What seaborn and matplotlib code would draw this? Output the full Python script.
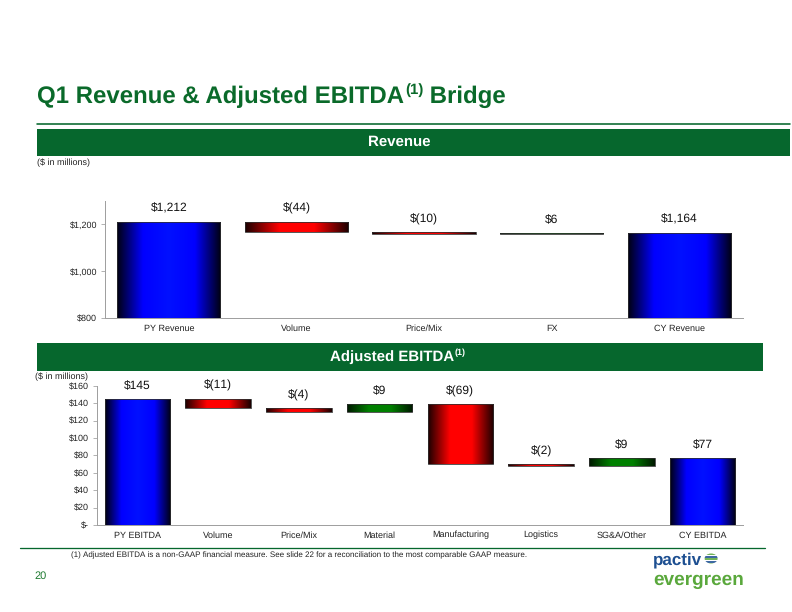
import matplotlib
matplotlib.use("Agg")
import matplotlib.pyplot as plt
import numpy as np
import pandas as pd
import seaborn as sns
from matplotlib.colors import LinearSegmentedColormap
from matplotlib.patches import Rectangle, Circle
from matplotlib.lines import Line2D

# ---- data ----
rev_cats = ["PY Revenue", "Volume", "Price/Mix", "FX", "CY Revenue"]
rev_vals = [1212, -44, -10, 6, 1164]
rev_kind = ["total", "delta", "delta", "delta", "total"]
rev_labels = ["$1,212", "$(44)", "$(10)", "$6", "$1,164"]
rev_ticks = [800, 1000, 1200]
rev_ticklabels = ["$800", "$1,000", "$1,200"]

eb_cats = ["PY EBITDA", "Volume", "Price/Mix", "Material", "Manufacturing",
           "Logistics", "SG&A/Other", "CY EBITDA"]
eb_vals = [145, -11, -4, 9, -69, -2, 9, 77]
eb_kind = ["total", "delta", "delta", "delta", "delta", "delta", "delta", "total"]
eb_labels = ["$145", "$(11)", "$(4)", "$9", "$(69)", "$(2)", "$9", "$77"]
eb_ticks = [0, 20, 40, 60, 80, 100, 120, 140, 160]
eb_ticklabels = ["$-", "$20", "$40", "$60", "$80", "$100", "$120", "$140", "$160"]

GREEN = "#06672d"
W, H = 792, 612

sns.set_style("white")
plt.rcParams["font.family"] = ["Liberation Sans", "DejaVu Sans"]
plt.rcParams["text.hinting_factor"] = 1
plt.rcParams["text.hinting"] = "no_hinting"

cmaps = {
    "total": LinearSegmentedColormap.from_list("b", ["#000010", "#0000ff", "#0010ff", "#0000ff", "#000010"]),
    "neg": LinearSegmentedColormap.from_list("r", ["#1a0000", "#ff0000", "#ff0000", "#1a0000"]),
    "pos": LinearSegmentedColormap.from_list("g", ["#001800", "#008000", "#008000", "#001800"]),
}


def bridge(vals, kind):
    bottoms, tops, styles = [], [], []
    run = 0
    for v, k in zip(vals, kind):
        if k == "total":
            bottoms.append(0); tops.append(v); styles.append("total"); run = v
        else:
            lo, hi = sorted([run, run + v])
            bottoms.append(lo); tops.append(hi)
            styles.append("pos" if v > 0 else "neg")
            run += v
    return bottoms, tops, styles


def draw_bridge(ax, cats, vals, kind, labels, ylim, ticks, ticklabels, fs_tick, label_off):
    bottoms, tops, styles = bridge(vals, kind)
    df = pd.DataFrame({"cat": cats, "top": tops})
    sns.barplot(data=df, x="cat", y="top", color="white", edgecolor="#303030",
                linewidth=0.8, width=0.81, errorbar=None, ax=ax, zorder=2)
    grad = np.linspace(0, 1, 256).reshape(1, -1)
    for p, b, t, s, lab in zip(ax.patches, bottoms, tops, styles, labels):
        b = max(b, ylim[0])
        p.set_y(b)
        p.set_height(t - b)
        x0 = p.get_x()
        w = p.get_width()
        im = ax.imshow(grad, cmap=cmaps[s], aspect="auto",
                       extent=(x0, x0 + w, b, t), zorder=1.5, interpolation="bilinear")
        im.set_clip_path(p)
        p.set_facecolor("none")
        ax.annotate(lab, (x0 + w / 2, t), xytext=(0, label_off), textcoords="offset points",
                    ha="center", va="center", fontsize=11.5, color="#111111")
    ax.set_xlim(-0.5, len(cats) - 0.5)
    ax.set_ylim(*ylim)
    ax.set_yticks(ticks)
    ax.set_yticklabels(ticklabels)
    ax.set_xlabel("")
    ax.set_ylabel("")
    sns.despine(ax=ax)
    for sp in ("left", "bottom"):
        ax.spines[sp].set_color("#a0a0a0")
        ax.spines[sp].set_linewidth(1.0)
    ax.tick_params(axis="x", length=0, pad=6, labelsize=fs_tick, colors="#222222")
    ax.tick_params(axis="y", length=4, width=0.8, color="#a0a0a0", pad=4,
                   labelsize=fs_tick, labelcolor="#222222", left=True)
    ax.set_facecolor("none")


fig = plt.figure(figsize=(W / 72, H / 72), dpi=72)


def fx(px):
    return px / W


def fy(py):
    return 1 - py / H


renderer = fig.canvas.get_renderer()


def text_with_sup(x, y, main, sup, tail, size, color, weight="bold", ha="left"):
    t1 = fig.text(x, y, main, fontsize=size, color=color, weight=weight, va="center", ha="left")
    bb = t1.get_window_extent(renderer)
    xs = bb.x1 / fig.bbox.width
    t2 = fig.text(xs + 0.001, y + size * 0.28 / H, sup, fontsize=size * 0.62, color=color,
                  weight=weight, va="center", ha="left")
    bb2 = t2.get_window_extent(renderer)
    parts = [t1, t2]
    if tail:
        t3 = fig.text(bb2.x1 / fig.bbox.width, y, tail, fontsize=size, color=color,
                      weight=weight, va="center", ha="left")
        parts.append(t3)
    if ha == "center":
        total = (parts[-1].get_window_extent(renderer).x1 - bb.x0) / fig.bbox.width
        shift = total / 2
        for t in parts:
            px, py = t.get_position()
            t.set_position((px - shift, py))


# title, rules and banners
text_with_sup(fx(37), fy(97), "Q1 Revenue & Adjusted EBITDA", "(1)", " Bridge", 24, "#0a6a2a")
fig.add_artist(Line2D([fx(37), fx(790)], [fy(124), fy(124)], color=GREEN, lw=1.6))
fig.add_artist(Rectangle((fx(37), fy(156)), fx(790) - fx(37), (156 - 129) / H,
                         transform=fig.transFigure, color=GREEN, lw=0))
fig.text(fx(399), fy(142), "Revenue", fontsize=15, color="white", weight="bold",
         ha="center", va="center")
fig.text(fx(37), fy(163), "($ in millions)", fontsize=8.5, color="#222222", va="center")

fig.add_artist(Rectangle((fx(37), fy(371)), fx(763) - fx(37), (371 - 343) / H,
                         transform=fig.transFigure, color=GREEN, lw=0))
text_with_sup(fx(398), fy(357), "Adjusted EBITDA", "(1)", "", 15, "white", ha="center")
fig.text(fx(35), fy(377), "($ in millions)", fontsize=8.5, color="#222222", va="center")

# charts
ax1 = fig.add_axes([fx(105), fy(318), (743 - 105) / W, (318 - 201) / H])
draw_bridge(ax1, rev_cats, rev_vals, rev_kind, rev_labels, (800, 1300),
            rev_ticks, rev_ticklabels, 8.7, 13)

ax2 = fig.add_axes([fx(97), fy(525), (743 - 97) / W, (525 - 385.7) / H])
draw_bridge(ax2, eb_cats, eb_vals, eb_kind, eb_labels, (0, 160),
            eb_ticks, eb_ticklabels, 8.7, 13)

# footer
fig.add_artist(Line2D([fx(20), fx(765)], [fy(548), fy(548)], color=GREEN, lw=1.3))
fig.text(fx(71), fy(555), "(1) Adjusted EBITDA is a non-GAAP financial measure. See slide 22 "
         "for a reconciliation to the most comparable GAAP measure.",
         fontsize=7.7, color="#222222", va="center")
fig.text(fx(41), fy(576), "20", fontsize=11, color="#1e7a30", ha="center", va="center")

# logo
t_p = fig.text(fx(653), fy(560), "pactiv", fontsize=17, weight="bold", color="#1d4f91",
               va="center", ha="left")
fig.text(fx(653), fy(580), "evergreen", fontsize=18.5, weight="bold", color="#5aa83c",
         va="center", ha="left")
gx = t_p.get_window_extent(renderer).x1 + 9
gy, gr = 558.5, 6.5
globe = Circle((fx(gx), fy(gy)), gr / W, transform=fig.transFigure, facecolor="none",
               edgecolor="none")
fig.add_artist(globe)
for i, yy in enumerate(np.arange(gy - 6.5, gy + 7, 2.4)):
    ln = Line2D([fx(gx - 8), fx(gx + 8)], [fy(yy), fy(yy)], lw=1.7,
                color="#1d4f91" if i % 2 == 0 else "#5aa83c")
    fig.add_artist(ln)
    ln.set_clip_path(globe)

fig.savefig("out.png", dpi=72)
